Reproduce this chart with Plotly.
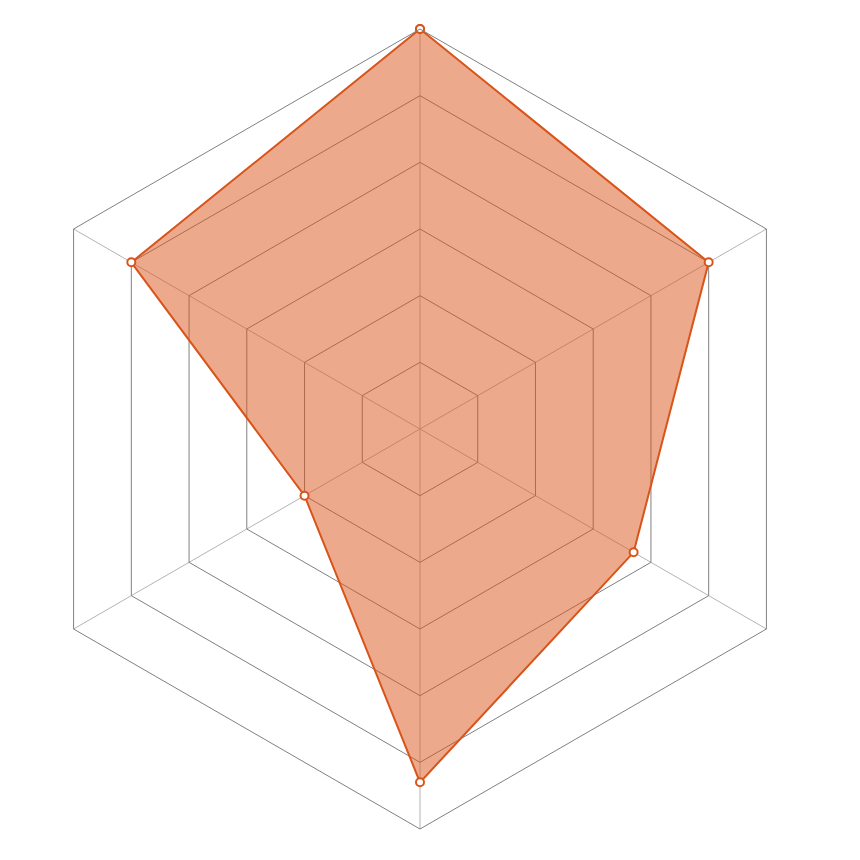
import plotly.graph_objects as go

# radar axes (labels hidden in the reference)
categories = ["A", "B", "C", "D", "E", "F"]
values = [6.0, 5.0, 3.7, 5.3, 2.0, 5.0]
max_value = 6

line_color = "#d9541a"

fig = go.Figure()

fig.add_trace(go.Scatterpolar(
    r=values + values[:1],
    theta=categories + categories[:1],
    mode="lines+markers",
    fill="toself",
    fillcolor="rgba(217,84,26,0.5)",
    line=dict(color=line_color, width=2),
    marker=dict(size=8, color="white", line=dict(color=line_color, width=2)),
    showlegend=False,
    hoverinfo="skip",
))

fig.update_layout(
    width=860,
    height=860,
    paper_bgcolor="white",
    plot_bgcolor="white",
    margin=dict(l=12, r=48, t=21, b=39),
    polar=dict(
        bgcolor="white",
        gridshape="linear",
        radialaxis=dict(
            range=[0, max_value],
            dtick=1,
            showticklabels=False,
            ticks="",
            showline=False,
            gridcolor="#808080",
            gridwidth=1,
        ),
        angularaxis=dict(
            direction="clockwise",
            rotation=90,
            showticklabels=False,
            ticks="",
            showline=True,
            linecolor="#808080",
            linewidth=1,
            gridcolor="#b4b4b4",
            gridwidth=1,
        ),
    ),
)

fig.write_html("out.html")
